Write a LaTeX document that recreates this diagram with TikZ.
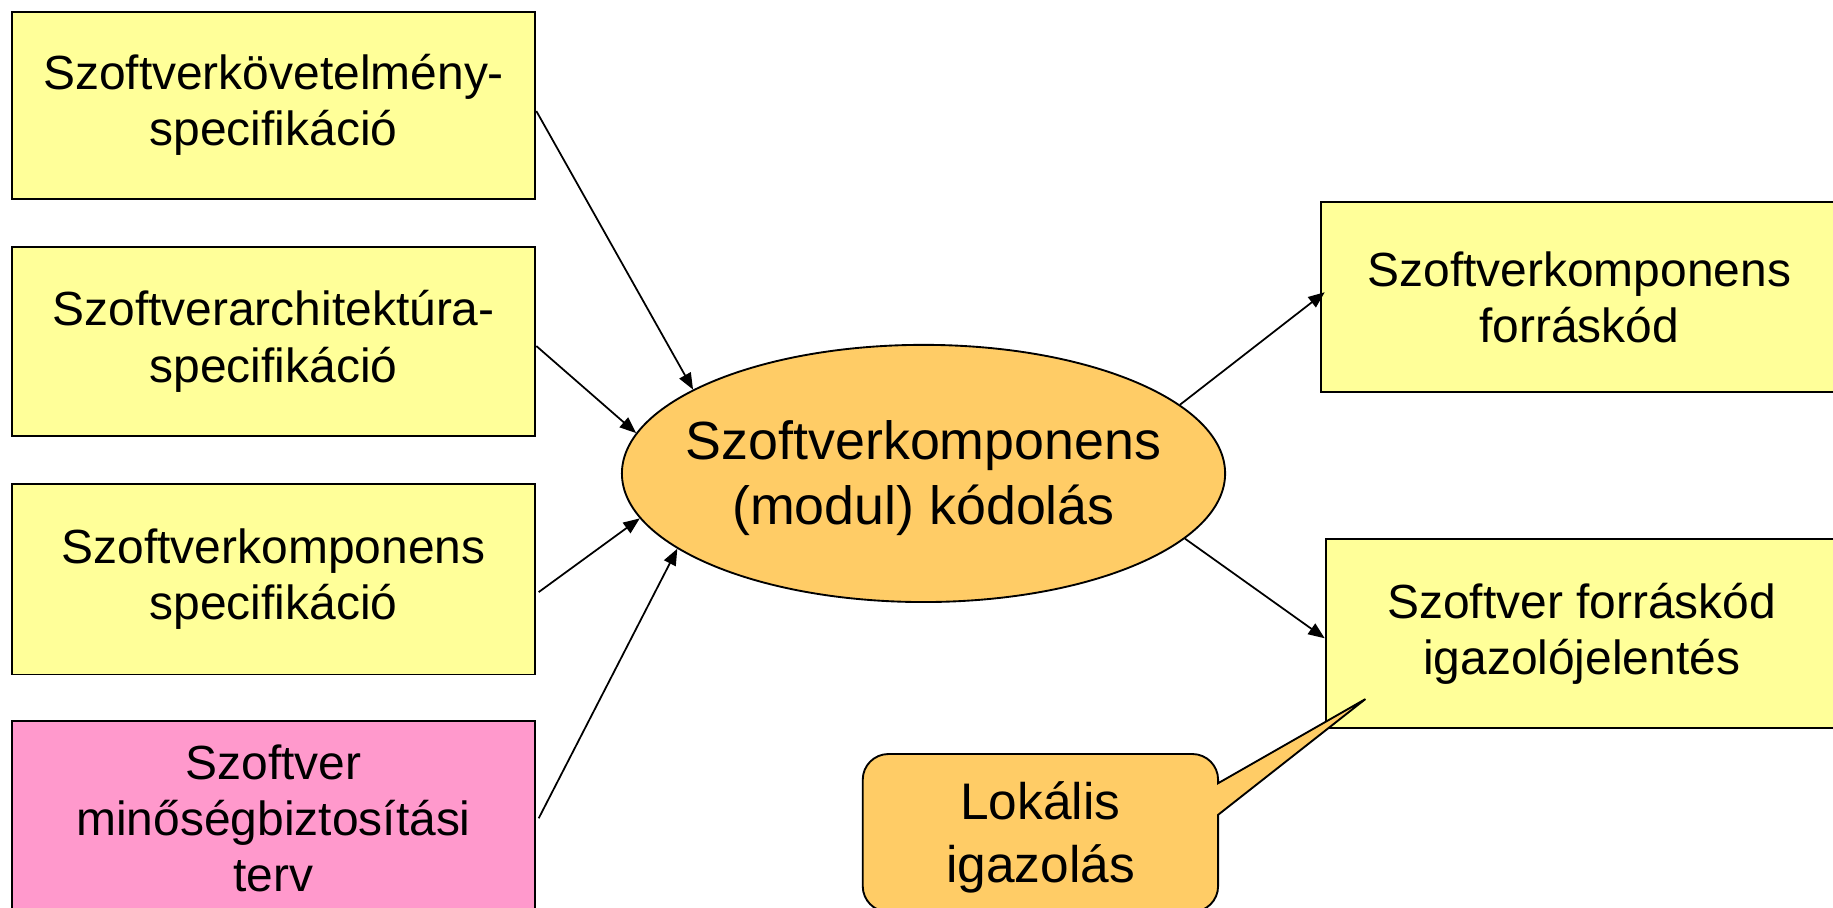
\documentclass[tikz,border=0pt]{standalone}
\usepackage{fontspec}
\setmainfont{Liberation Sans}
\usetikzlibrary{arrows.meta,calc,shapes.geometric}
\definecolor{boxyellow}{HTML}{FFFF99}
\definecolor{ovalorange}{HTML}{FFCC66}
\definecolor{qapink}{HTML}{FF99CC}
\begin{document}
\begin{tikzpicture}[x=1pt,y=-1pt,
  docbox/.style={draw=black, line width=1.6pt, fill=boxyellow, align=center, inner sep=0pt,
    font=\fontsize{41}{48}\selectfont},
  oval/.style={ellipse, draw=black, line width=1.6pt, fill=ovalorange, inner sep=0pt,
    minimum width=516pt, minimum height=220pt},
  ovaltext/.style={align=center, inner sep=0pt, font=\fontsize{46}{55}\selectfont},
  conn/.style={-{Triangle[length=14pt,width=11pt]}, line width=1.5pt},
  calloutshape/.style={draw=black, line width=1.6pt, fill=ovalorange}]
\useasboundingbox (0,0) rectangle (1568,776);
\fill[white] (0,0) rectangle (1568,776);
% left inputs
\node[docbox, minimum width=448pt, minimum height=160pt] (b1) at (234,90) {Szoftverkövetelmény-\\specifikáció};
\node[docbox, minimum width=448pt, minimum height=162pt] (b2) at (234,292) {Szoftverarchitektúra-\\specifikáció};
\node[docbox, minimum width=448pt, minimum height=163pt] (b3) at (234,495.5) {Szoftverkomponens\\specifikáció};
\node[docbox, fill=qapink, minimum width=448pt, minimum height=166pt] (b4) at (234,700) {Szoftver\\minőségbiztosítási\\terv};
% central activity
\node[oval] (e) at (790,405) {};
\node[ovaltext] (etext) at (790,409) {Szoftverkomponens\\(modul) kódolás};
% outputs
\node[docbox, minimum width=442pt, minimum height=162pt] (r1) at (1351,254) {Szoftverkomponens\\forráskód};
\node[docbox, minimum width=438pt, minimum height=162pt] (r2) at (1353,542) {Szoftver forráskód\\igazolójelentés};
% connectors
\draw[conn] ($(b1.east)+(0,5)$) -- (e.160);
\draw[conn] ($(b2.east)+(0,4)$) -- (e.172);
\draw[conn] ($(b3.east)+(2,11)$) -- (e.189);
\draw[conn] ($(b4.east)+(2,0)$) -- (e.197);
\draw[conn] (e.15) -- ($(r1.west)+(4,-4)$);
\draw[conn] (e.-14) -- ($(r2.west)+(0,4)$);
% callout
\coordinate (tip) at (1168,598);
\draw[calloutshape] (760,645) -- (1020,645) arc[start angle=-90,end angle=0,radius=22]
  -- (1042,670) -- (tip) -- (1042,697) -- (1042,758) arc[start angle=0,end angle=90,radius=22]
  -- (760,780) arc[start angle=90,end angle=180,radius=22]
  -- (738,667) arc[start angle=180,end angle=270,radius=22] -- cycle;
\node[align=center, font=\fontsize{44}{54}\selectfont] (callout) at (890,716) {Lokális\\igazolás};
\end{tikzpicture}
\end{document}
